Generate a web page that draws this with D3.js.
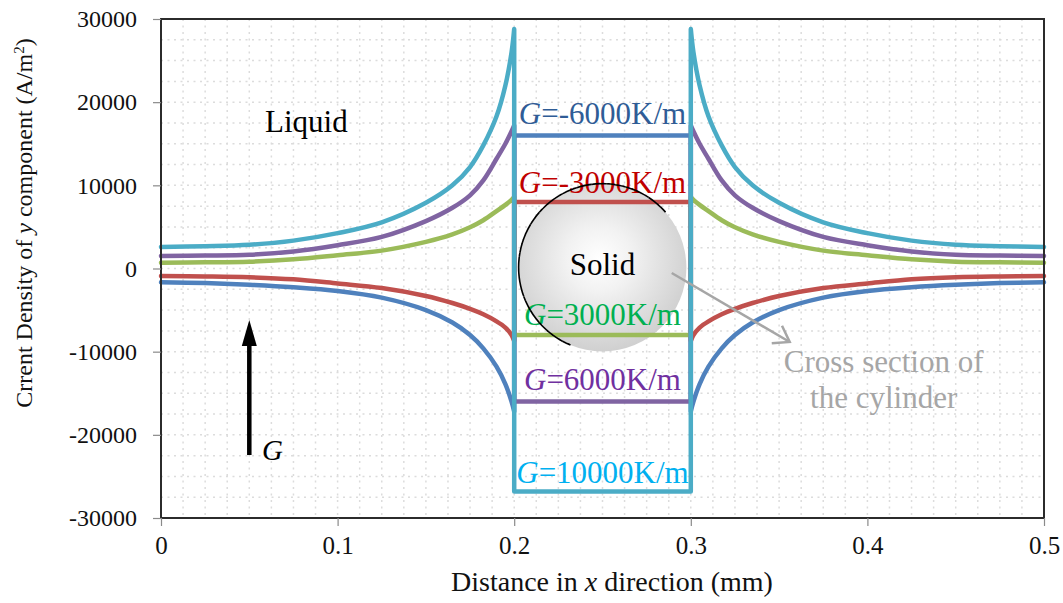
<!DOCTYPE html>
<html><head><meta charset="utf-8">
<script src="https://cdn.jsdelivr.net/npm/d3@7"></script>
<style>
html,body{margin:0;padding:0;background:#fff;}
svg{display:block;font-family:"Liberation Serif","Times New Roman",serif;}
svg text{font-family:"Liberation Serif","Times New Roman",serif;}
</style></head><body>
<svg id="chart" width="1063" height="603"></svg>
<script>
// ---------------- data ----------------
const xTicks = [0, 0.1, 0.2, 0.3, 0.4, 0.5];
const yTicks = [-30000, -20000, -10000, 0, 10000, 20000, 30000];

// x positions (mm) of the liquid branch left of the cylinder (mirrored on the right side)
const xLiquid = [0, 0.025, 0.05, 0.075, 0.1, 0.125, 0.15, 0.165, 0.175, 0.1825, 0.19, 0.195, 0.1985, 0.2];

const gm6000 = [-1650, -1750, -1950, -2250, -2700, -3500, -5000, -6500, -8000, -9600, -11800, -13900, -16000, -17200];
const gm3000 = [-900, -950, -1050, -1300, -1800, -2350, -3300, -4150, -4850, -5500, -6350, -7100, -8000, -8700];
const g3000  = [700, 740, 820, 1100, 1600, 2150, 3200, 4100, 4950, 5800, 6900, 7650, 8250, 8600];
const g6000  = [1500, 1550, 1650, 2050, 2800, 3800, 5700, 7300, 8800, 10600, 13200, 15000, 16500, 17200];
const g10000 = [2600, 2680, 2850, 3350, 4250, 5550, 7900, 10000, 12200, 14800, 18300, 22000, 26000, 28800];

// current density inside the solid cylinder
const solidValues = [16000, 8000, -8000, -16000, -26800];
const solidRange = [0.2, 0.3];

const seriesValues = [gm6000, gm3000, g3000, g6000, g10000];
const seriesLabels = ["=-6000K/m", "=-3000K/m", "=3000K/m", "=6000K/m", "=10000K/m"];
const labelY = [17375, 9078, -6794, -14609, -25791];

const lineColors = ["#4F81BD", "#C0504D", "#9BBB59", "#8064A2", "#4BACC6"];
const labelColors = ["#2F5C96", "#C00000", "#00B050", "#7030A0", "#00B0F0"];

const SERIF = '"Liberation Serif", "Times New Roman", serif';

// ---------------- setup ----------------
const svg = d3.select("#chart");
const x = d3.scaleLinear().domain([0, 0.5]).range([161, 1044]);
const y = d3.scaleLinear().domain([-30000, 30000]).range([518, 19]);

// gradient for cylinder
const defs = svg.append("defs");
const grad = defs.append("radialGradient").attr("id", "cyl").attr("cx", "48%").attr("cy", "45%").attr("r", "55%");
grad.append("stop").attr("offset", "0%").attr("stop-color", "#ffffff");
grad.append("stop").attr("offset", "35%").attr("stop-color", "#f2f2f2");
grad.append("stop").attr("offset", "100%").attr("stop-color", "#d0d0d0");

// grid (dotted)
const grid = svg.append("g").attr("stroke", "#dcdcdc").attr("stroke-width", 1.5).attr("stroke-dasharray", "2,4.5");
d3.range(0.0125, 0.5, 0.0125).forEach(v => {
  grid.append("line").attr("x1", x(v)).attr("x2", x(v)).attr("y1", y(30000)).attr("y2", y(-30000));
});
d3.range(-27500, 30000, 2500).forEach(v => {
  grid.append("line").attr("x1", x(0)).attr("x2", x(0.5)).attr("y1", y(v)).attr("y2", y(v));
});

// cylinder cross section
const cx = x(0.25), cy = y(0) - 1, cr = x(0.2975) - x(0.25);
svg.append("circle").attr("cx", cx).attr("cy", cy).attr("r", cr).attr("fill", "url(#cyl)");

// ---------------- curves ----------------
const lineGen = d3.line().x(d => x(d[0])).y(d => y(d[1])).curve(d3.curveCatmullRom.alpha(0.5));
const curvesG = svg.append("g").attr("fill", "none").attr("stroke-width", 4.5)
  .attr("stroke-linejoin", "round").attr("stroke-linecap", "round");

seriesValues.forEach((vals, i) => {
  const left = xLiquid.map((xv, j) => [xv, vals[j]]);
  const right = xLiquid.map((xv, j) => [0.5 - xv, vals[j]]).reverse();
  const peak = vals[vals.length - 1];
  const s = solidValues[i];
  const box = `L${x(solidRange[0])},${y(s)}L${x(solidRange[1])},${y(s)}L${x(solidRange[1])},${y(peak)}`;
  const rightPath = lineGen(right).replace(/^M/, "L");
  curvesG.append("path").attr("stroke", lineColors[i]).attr("d", lineGen(left) + box + rightPath);
});

// ---------------- frame & axes ----------------
svg.append("rect").attr("x", x(0)).attr("y", y(30000)).attr("width", x(0.5) - x(0)).attr("height", y(-30000) - y(30000))
  .attr("fill", "none").attr("stroke", "#2b2b2b").attr("stroke-width", 2);

const yAxis = svg.append("g").attr("transform", `translate(${x(0)},0)`)
  .call(d3.axisLeft(y).tickValues(yTicks).tickSize(8).tickPadding(16).tickFormat(d => String(d)));
yAxis.style("font-family", SERIF);
yAxis.select(".domain").remove();
yAxis.selectAll(".tick line").attr("stroke", "#8a8a8a").attr("stroke-width", 1.2);
yAxis.selectAll(".tick text").style("font-family", SERIF).style("font-size", "24px").attr("fill", "#111");

const xAxis = svg.append("g").attr("transform", `translate(0,${y(-30000)})`)
  .call(d3.axisBottom(x).tickValues(xTicks).tickSize(8).tickPadding(10).tickFormat(d => String(d)));
xAxis.style("font-family", SERIF);
xAxis.select(".domain").remove();
xAxis.selectAll(".tick line").attr("stroke", "#8a8a8a").attr("stroke-width", 1.2);
xAxis.selectAll(".tick text").style("font-family", SERIF).style("font-size", "25px").attr("fill", "#111");

// axis titles
const xt = svg.append("text").attr("x", 612).attr("y", 591).attr("text-anchor", "middle")
  .style("font-size", "28px").attr("fill", "#111");
xt.append("tspan").text("Distance in ");
xt.append("tspan").attr("font-style", "italic").text("x");
xt.append("tspan").text(" direction (mm)");

const yt = svg.append("text").attr("transform", "translate(32,223) rotate(-90)").attr("text-anchor", "middle")
  .style("font-size", "24px").attr("fill", "#111");
yt.append("tspan").text("Crrent Density of ");
yt.append("tspan").attr("font-style", "italic").text("y");
yt.append("tspan").text(" component (A/m");
yt.append("tspan").style("font-size", "15px").attr("baseline-shift", "super").text("2");
yt.append("tspan").text(")");

// ---------------- annotations ----------------
svg.append("text").attr("x", x(0.0589)).attr("y", y(16449)).style("font-size", "31px").attr("fill", "#000").text("Liquid");
svg.append("text").attr("x", x(0.25)).attr("y", y(-782)).attr("text-anchor", "middle").style("font-size", "31px").attr("fill", "#000").text("Solid");

seriesLabels.forEach((t, i) => {
  const tx = svg.append("text").attr("x", x(0.25)).attr("y", y(labelY[i])).attr("text-anchor", "middle")
    .style("font-size", "31px").attr("fill", labelColors[i]);
  tx.append("tspan").attr("font-style", "italic").text("G");
  tx.append("tspan").text(t);
});

// dashed rim of the cylinder (partly visible)
const arc = d3.arc().innerRadius(cr).outerRadius(cr).startAngle(-2.75).endAngle(0.85);
svg.append("path").attr("transform", `translate(${cx},${cy})`).attr("d", arc())
  .attr("fill", "none").attr("stroke", "#000").attr("stroke-width", 1.6).attr("stroke-dasharray", "9,2,2,2");

// G arrow
const ax = x(0.05), aTail = y(-22425), aTip = y(-6192);
svg.append("line").attr("x1", ax).attr("x2", ax).attr("y1", aTail).attr("y2", aTip + 20)
  .attr("stroke", "#000").attr("stroke-width", 4.5);
svg.append("path").attr("d", `M${ax},${aTip}L${ax - 7.5},${aTip + 26}L${ax + 7.5},${aTip + 26}Z`).attr("fill", "#000");
svg.append("text").attr("x", x(0.0572)).attr("y", y(-23026)).style("font-size", "29px").attr("font-style", "italic").attr("fill", "#000").text("G");

// gray pointer arrow
const p0 = [x(0.2892), y(-541)], p1 = [x(0.356), y(-8837)];
const ang = Math.atan2(p1[1] - p0[1], p1[0] - p0[0]);
const hl = 18, ha = 0.6;
svg.append("line").attr("x1", p0[0]).attr("y1", p0[1]).attr("x2", p1[0]).attr("y2", p1[1])
  .attr("stroke", "#A6A6A6").attr("stroke-width", 2.5);
svg.append("path").attr("d",
  `M${p1[0] - hl * Math.cos(ang - ha)},${p1[1] - hl * Math.sin(ang - ha)}L${p1[0]},${p1[1]}L${p1[0] - hl * Math.cos(ang + ha)},${p1[1] - hl * Math.sin(ang + ha)}`)
  .attr("fill", "none").attr("stroke", "#A6A6A6").attr("stroke-width", 2.5).attr("stroke-linejoin", "miter");

svg.append("text").attr("x", x(0.4092)).attr("y", y(-12445)).attr("text-anchor", "middle").style("font-size", "31px").attr("fill", "#A6A6A6").text("Cross section of");
svg.append("text").attr("x", x(0.4092)).attr("y", y(-16773)).attr("text-anchor", "middle").style("font-size", "31px").attr("fill", "#A6A6A6").text("the cylinder");
</script>
</body></html>
